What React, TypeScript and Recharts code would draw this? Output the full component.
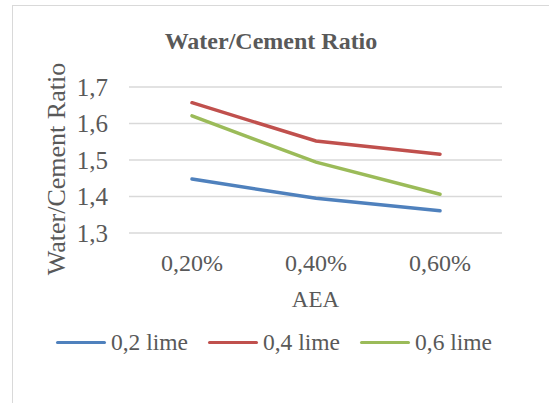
import * as React from 'react';
import { LineChart, Line, XAxis, YAxis, CartesianGrid, Legend } from 'recharts';

const categories = ['0,20%', '0,40%', '0,60%'];
const lime02 = [1.448, 1.395, 1.361];
const lime04 = [1.657, 1.552, 1.516];
const lime06 = [1.621, 1.494, 1.406];
const yTicks = [1.3, 1.4, 1.5, 1.6, 1.7];

const series = [
    { key: 'lime02', name: '0,2 lime', color: '#4F81BD' },
    { key: 'lime04', name: '0,4 lime', color: '#C0504D' },
    { key: 'lime06', name: '0,6 lime', color: '#9BBB59' },
];

const data = categories.map((name, i) => ({
    name,
    lime02: lime02[i],
    lime04: lime04[i],
    lime06: lime06[i],
}));

const font = '"Liberation Serif", serif';
const textColor = '#595959';

function LegendContent() {
    return (
        <div style={{ display: 'flex', justifyContent: 'center', alignItems: 'center', height: 30, fontFamily: font, fontSize: 23.5, color: textColor, paddingLeft: 46 }}>
            {series.map((s, i) => (
                <div key={s.key} style={{ display: 'flex', alignItems: 'center', marginRight: i < series.length - 1 ? 20 : 0 }}>
                    <div style={{ width: 50, height: 3, background: s.color, borderRadius: 2, marginRight: 5 }} />
                    <span>{s.name}</span>
                </div>
            ))}
        </div>
    );
}

export default function App() {
    return (
        <div style={{ position: 'absolute', left: 0, top: 0, width: 549, height: 403, background: '#fff', overflow: 'hidden' }}>
            <div style={{ position: 'absolute', left: 12, top: 5, width: 560, height: 420, border: '1px solid #d9d9d9' }} />
            <div style={{ position: 'absolute', left: 0, width: 542, top: 27, textAlign: 'center', fontFamily: font, fontWeight: 'bold', fontSize: 24, lineHeight: '28px', color: textColor }}>
                Water/Cement Ratio
            </div>
            <LineChart width={549} height={403} data={data} margin={{ top: 87, right: 47, left: 0, bottom: 46 }}>
                <CartesianGrid vertical={false} stroke="#d9d9d9" strokeWidth={1.5} />
                <XAxis
                    dataKey="name"
                    axisLine={false}
                    tickLine={false}
                    tickSize={0}
                    tickMargin={21}
                    height={94}
                    padding={{ left: 63, right: 62 }}
                    tick={{ fontSize: 24, fill: textColor, fontFamily: font }}
                    label={{ value: 'AEA', position: 'insideBottom', offset: 20, fontSize: 23, fill: textColor, fontFamily: font }}
                />
                <YAxis
                    width={129}
                    domain={[1.3, 1.7]}
                    ticks={yTicks}
                    axisLine={false}
                    tickLine={false}
                    tickSize={0}
                    tickMargin={21}
                    tickFormatter={(v: number) => v.toFixed(1).replace('.', ',')}
                    tick={{ fontSize: 25, fill: textColor, fontFamily: font }}
                    label={{ value: 'Water/Cement Ratio', angle: -90, position: 'center', dx: -9, dy: 9, fontSize: 26, fill: textColor, fontFamily: font, style: { textAnchor: 'middle' } }}
                />
                <Legend verticalAlign="bottom" height={30} content={<LegendContent />} />
                {series.map((s) => (
                    <Line
                        key={s.key}
                        type="linear"
                        dataKey={s.key}
                        name={s.name}
                        stroke={s.color}
                        strokeWidth={3.5}
                        strokeLinecap="round"
                        dot={false}
                        activeDot={false}
                        isAnimationActive={false}
                    />
                ))}
            </LineChart>
        </div>
    );
}
